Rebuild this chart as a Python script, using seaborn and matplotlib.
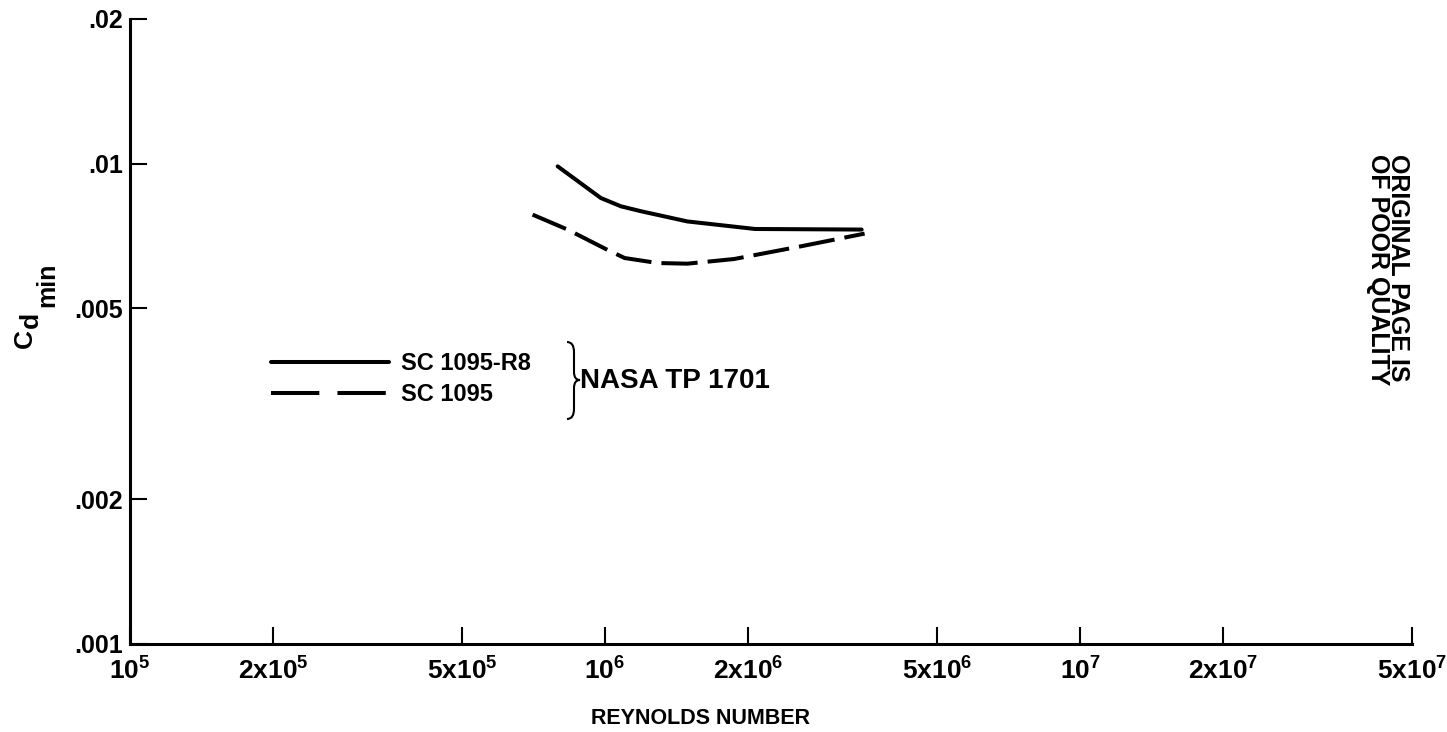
import numpy as np
import pandas as pd
import matplotlib
matplotlib.use("Agg")
import matplotlib.pyplot as plt
import seaborn as sns
from matplotlib.lines import Line2D
from matplotlib.path import Path
from matplotlib.patches import PathPatch

# ---- data ----
re_r8 = [7.95e5, 9.8e5, 1.08e6, 1.19e6, 1.49e6, 2.07e6, 3.47e6]
cd_r8 = [0.00987, 0.00848, 0.00815, 0.00796, 0.00758, 0.00731, 0.00729]
re_base = [7.04e5, 8.34e5, 1.01e6, 1.10e6, 1.29e6, 1.49e6, 1.87e6, 2.59e6, 3.52e6]
cd_base = [0.00783, 0.00729, 0.00662, 0.00636, 0.00621, 0.00619, 0.00633, 0.00673, 0.00715]
series_names = ["SC 1095-R8", "SC 1095"]
source_label = "NASA TP 1701"

x_ticks = [1e5, 2e5, 5e5, 1e6, 2e6, 5e6, 1e7, 2e7, 5e7]
x_tick_labels = [r"$\mathregular{10^{5}}$", r"$\mathregular{2x10^{5}}$", r"$\mathregular{5x10^{5}}$",
                 r"$\mathregular{10^{6}}$", r"$\mathregular{2x10^{6}}$", r"$\mathregular{5x10^{6}}$",
                 r"$\mathregular{10^{7}}$", r"$\mathregular{2x10^{7}}$", r"$\mathregular{5x10^{7}}$"]
y_ticks = [0.001, 0.002, 0.005, 0.01, 0.02]
y_tick_labels = [".001", ".002", ".005", ".01", ".02"]

df = pd.concat([
    pd.DataFrame({"Re": re_r8, "Cd": cd_r8, "airfoil": series_names[0]}),
    pd.DataFrame({"Re": re_base, "Cd": cd_base, "airfoil": series_names[1]}),
], ignore_index=True)

sns.set_style("ticks")
plt.rcParams["font.family"] = ["Liberation Sans", "DejaVu Sans"]
plt.rcParams["font.weight"] = "bold"
plt.rcParams["mathtext.default"] = "regular"
for k in ["text.color", "axes.labelcolor", "xtick.color", "ytick.color", "axes.edgecolor"]:
    plt.rcParams[k] = "black"

W, H = 1447, 732
fig = plt.figure(figsize=(W / 100, H / 100), dpi=100)
ax = fig.add_axes([130 / W, 1 - 644 / H, (1412 - 130) / W, (644 - 19) / H])

LW = 2.9
DASH = (9, 2.5)
sns.lineplot(data=df, x="Re", y="Cd", style="airfoil",
             dashes={series_names[0]: "", series_names[1]: DASH},
             color="black", lw=LW, legend=False, estimator=None, sort=False, ax=ax)

ax.set_xscale("log")
ax.set_yscale("log")
ax.set_xlim(1e5, 5e7)
ax.set_ylim(0.001, 0.02)
ax.set_xticks(x_ticks)
ax.set_xticklabels(x_tick_labels)
ax.set_yticks(y_ticks)
ax.set_yticklabels(y_tick_labels)
ax.minorticks_off()

for s in ["top", "right"]:
    ax.spines[s].set_visible(False)
for s in ["left", "bottom"]:
    ax.spines[s].set_linewidth(2.2)
    ax.spines[s].set_color("black")

ax.tick_params(axis="both", direction="in", length=12, width=1.5, color="black",
               labelcolor="black")
ax.tick_params(axis="x", labelsize=19, pad=10)
ax.tick_params(axis="y", labelsize=18, pad=5)
for lab in ax.get_xticklabels() + ax.get_yticklabels():
    lab.set_fontweight("bold")

ax.set_xlabel("REYNOLDS NUMBER", fontsize=15.5, fontweight="bold", color="black")
ax.xaxis.set_label_coords(0.445, -0.103)
ax.set_ylabel("")

# y-axis label C_d_min composed of stacked pieces (rotated)
for txt, bx, by, fs in [("C", 32, 348, 19), ("d", 38, 328, 19), ("min", 54, 307, 18)]:
    fig.text(bx / W, 1 - by / H, txt, rotation=90, rotation_mode="anchor",
             ha="left", va="baseline", fontsize=fs, fontweight="bold", color="black")

# legend
handles = [Line2D([], [], color="black", lw=LW),
           Line2D([], [], color="black", lw=LW, dashes=(12, 4.5))]
leg = ax.legend(handles, series_names, loc="center left", bbox_to_anchor=(0.11, 0.424),
                frameon=False, borderpad=0, borderaxespad=0, handlelength=5.0,
                handletextpad=0.5, labelspacing=0.35, prop={"size": 17, "weight": "bold"})
for t in leg.get_texts():
    t.set_color("black")

# brace
def fp(px, py):
    return (px / W, 1 - py / H)

verts = [fp(567, 342), fp(574, 342), fp(574, 352), fp(574, 372), fp(574, 380), fp(580, 380),
         fp(574, 380), fp(574, 388), fp(574, 409), fp(574, 419), fp(567, 419)]
codes = [Path.MOVETO, Path.CURVE3, Path.CURVE3, Path.LINETO, Path.CURVE3, Path.CURVE3,
         Path.CURVE3, Path.CURVE3, Path.LINETO, Path.CURVE3, Path.CURVE3]
fig.patches.append(PathPatch(Path(verts, codes), transform=fig.transFigure, fill=False,
                             lw=1.5, color="black"))
fig.text(580 / W, 1 - 381 / H, source_label, fontsize=20, fontweight="bold",
         ha="left", va="center", color="black")

fig.text(1388 / W, 1 - 270 / H, "ORIGINAL PAGE IS\nOF POOR QUALITY", rotation=-90,
         fontsize=18, fontweight="heavy", ha="center", va="center",
         multialignment="left", linespacing=0.8, color="black")

fig.savefig("out.png", dpi=100)
